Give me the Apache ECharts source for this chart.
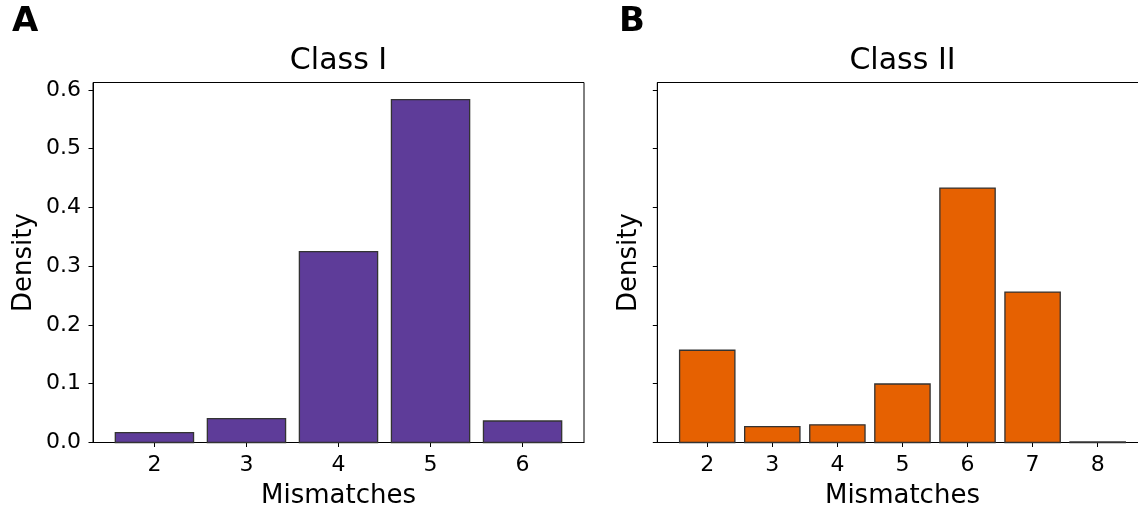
<!DOCTYPE html>
<html>
<head>
<meta charset="utf-8">
<script src="https://cdn.jsdelivr.net/npm/echarts@6/dist/echarts.min.js"></script>
<style>
html,body{margin:0;padding:0;background:#fff;}
#chart{width:1138px;height:516px;}
</style>
</head>
<body>
<div id="chart"></div>
<script>
// ---- data ----
const classIMismatches = [2, 3, 4, 5, 6];
const classIDensity = [0.0167, 0.0405, 0.3248, 0.5835, 0.0366];
const classIIMismatches = [2, 3, 4, 5, 6, 7, 8];
const classIIDensity = [0.157, 0.027, 0.030, 0.0996, 0.433, 0.256, 0.001];
const yTicks = [0, 0.1, 0.2, 0.3, 0.4, 0.5, 0.6];
const panelLabels = ['A', 'B'];
const panelTitles = ['Class I', 'Class II'];
const xName = 'Mismatches';
const yName = 'Density';

// ---- style ----
const BAR_W = 0.85;
const FONT = 'DejaVu Sans';
const colors = ['#5e3c99', '#e66101'];
const EDGE = '#333333';

function xRange(cats) {
  const lo = Math.min(...cats) - BAR_W / 2, hi = Math.max(...cats) + BAR_W / 2;
  const m = (hi - lo) * 0.05;
  return [lo - m, hi + m];
}
const yMax = Math.max(...classIDensity, ...classIIDensity) * 1.05;

const r1 = xRange(classIMismatches), r2 = xRange(classIIMismatches);

function renderBar(color) {
  return function (params, api) {
    const x = api.value(0), y = api.value(1);
    const p0 = api.coord([x - BAR_W / 2, 0]);
    const p1 = api.coord([x + BAR_W / 2, y]);
    return {
      type: 'rect',
      shape: { x: p0[0], y: p1[1], width: p1[0] - p0[0], height: p0[1] - p1[1] },
      style: { fill: color, stroke: EDGE, lineWidth: 1.3 }
    };
  };
}

const grids = [
  { left: 93, top: 82.5, width: 491, height: 360 },
  { left: 657.3, top: 82.5, width: 490.3, height: 360 }
];

function makeX(idx, range, cats) {
  return {
    type: 'value', gridIndex: idx, min: range[0], max: range[1],
    splitLine: { show: false },
    axisLine: { show: true, onZero: false, lineStyle: { color: '#000', width: 1 } },
    axisTick: { show: true, customValues: cats, length: 4.5, lineStyle: { color: '#000', width: 1 } },
    axisLabel: { show: true, customValues: cats, margin: 12, fontFamily: FONT, fontSize: 22, color: '#000' },
    name: xName, nameLocation: 'middle', nameGap: 41,
    nameTextStyle: { fontFamily: FONT, fontSize: 26, color: '#000' }
  };
}
function makeY(idx, showLabels) {
  return {
    type: 'value', gridIndex: idx, min: 0, max: yMax,
    splitLine: { show: false },
    axisLine: { show: true, lineStyle: { color: '#000', width: 1 } },
    axisTick: { show: true, customValues: yTicks, length: 4.5, lineStyle: { color: '#000', width: 1 } },
    axisLabel: { show: showLabels, customValues: yTicks, margin: 12, fontFamily: FONT, fontSize: 22, color: '#000',
      formatter: v => v.toFixed(1) },
    name: yName, nameLocation: 'middle', nameGap: showLabels ? 56 : 15, nameRotate: 90,
    nameTextStyle: { fontFamily: FONT, fontSize: 26, color: '#000' }
  };
}

const chart = echarts.init(document.getElementById('chart'), null, { renderer: 'canvas' });
chart.setOption({
  backgroundColor: '#fff',
  animation: false,
  grid: grids.map(g => Object.assign({ show: true, borderColor: '#000', borderWidth: 1, backgroundColor: 'transparent',
    containLabel: false, outerBoundsMode: 'none' }, g)),
  xAxis: [makeX(0, r1, classIMismatches), makeX(1, r2, classIIMismatches)],
  yAxis: [makeY(0, true), makeY(1, false)],
  series: [
    { type: 'custom', xAxisIndex: 0, yAxisIndex: 0, data: classIMismatches.map((c, i) => [c, classIDensity[i]]),
      renderItem: renderBar(colors[0]) },
    { type: 'custom', xAxisIndex: 1, yAxisIndex: 1, data: classIIMismatches.map((c, i) => [c, classIIDensity[i]]),
      renderItem: renderBar(colors[1]) }
  ],
  graphic: [
    { type: 'text', x: 12, y: 22, style: { text: panelLabels[0], font: 'bold 34px "DejaVu Sans"', fill: '#000', textVerticalAlign: 'middle' } },
    { type: 'text', x: 619, y: 22, style: { text: panelLabels[1], font: 'bold 34px "DejaVu Sans"', fill: '#000', textVerticalAlign: 'middle' } },
    { type: 'text', x: 338.5, y: 61, style: { text: panelTitles[0], font: '30px "DejaVu Sans"', fill: '#000', textAlign: 'center', textVerticalAlign: 'middle' } },
    { type: 'text', x: 902.5, y: 61, style: { text: panelTitles[1], font: '30px "DejaVu Sans"', fill: '#000', textAlign: 'center', textVerticalAlign: 'middle' } }
  ]
});
</script>
</body>
</html>
